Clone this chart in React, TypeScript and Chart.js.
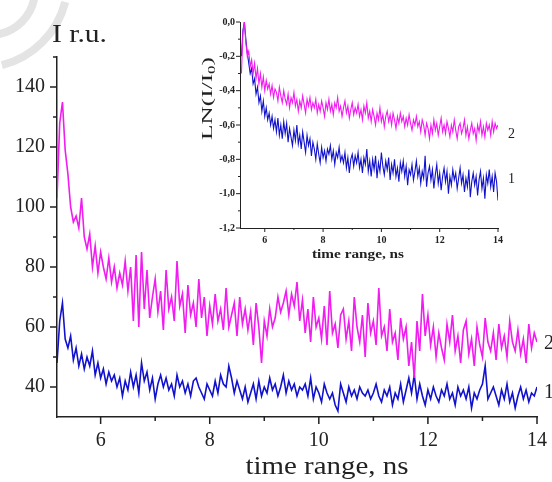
import React, { useEffect, useRef } from "react";
import { Chart, registerables } from "chart.js";

Chart.register(...registerables);

// sampling times, ns
const TIMES = [
  5.2, 5.25, 5.3, 5.35, 5.4, 5.45, 5.5, 5.55, 5.6, 5.65,
  5.7, 5.75, 5.8, 5.85, 5.9, 5.95, 6, 6.05, 6.1, 6.15,
  6.2, 6.25, 6.3, 6.35, 6.4, 6.45, 6.5, 6.55, 6.6, 6.65,
  6.7, 6.75, 6.8, 6.85, 6.9, 6.95, 7, 7.05, 7.1, 7.15,
  7.2, 7.25, 7.3, 7.35, 7.4, 7.45, 7.5, 7.55, 7.6, 7.65,
  7.7, 7.75, 7.8, 7.85, 7.9, 7.95, 8, 8.05, 8.1, 8.15,
  8.2, 8.25, 8.3, 8.35, 8.4, 8.45, 8.5, 8.55, 8.6, 8.65,
  8.7, 8.75, 8.8, 8.85, 8.9, 8.95, 9, 9.05, 9.1, 9.15,
  9.2, 9.25, 9.3, 9.35, 9.4, 9.45, 9.5, 9.55, 9.6, 9.65,
  9.7, 9.75, 9.8, 9.85, 9.9, 9.95, 10, 10.05, 10.1, 10.15,
  10.2, 10.25, 10.3, 10.35, 10.4, 10.45, 10.5, 10.55, 10.6, 10.65,
  10.7, 10.75, 10.8, 10.85, 10.9, 10.95, 11, 11.05, 11.1, 11.15,
  11.2, 11.25, 11.3, 11.35, 11.4, 11.45, 11.5, 11.55, 11.6, 11.65,
  11.7, 11.75, 11.8, 11.85, 11.9, 11.95, 12, 12.05, 12.1, 12.15,
  12.2, 12.25, 12.3, 12.35, 12.4, 12.45, 12.5, 12.55, 12.6, 12.65,
  12.7, 12.75, 12.8, 12.85, 12.9, 12.95, 13, 13.05, 13.1, 13.15,
  13.2, 13.25, 13.3, 13.35, 13.4, 13.45, 13.5, 13.55, 13.6, 13.65,
  13.7, 13.75, 13.8, 13.85, 13.9, 13.95, 14,
];

// main plot, curve 2 (magenta), I r.u.
const MAIN_2 = [
  103, 128, 135, 119, 111, 100, 95, 97, 93, 103,
  90, 86, 91, 80, 87, 78, 85, 80, 76, 83,
  75, 80, 73, 78, 74, 82, 72, 80, 62, 84,
  60, 85, 66, 79, 63, 70, 76, 65, 72, 59,
  79, 66, 70, 62, 82, 67, 71, 58, 74, 64,
  68, 60, 76, 63, 70, 57, 67, 61, 71, 62,
  66, 59, 73, 60, 64, 68, 57, 70, 61, 66,
  59, 65, 54, 68, 60, 48, 62, 57, 66, 60,
  63, 70, 65, 68, 72, 64, 71, 67, 75, 62,
  69, 58, 66, 55, 70, 60, 63, 56, 67, 54,
  72, 58, 61, 53, 64, 66, 56, 62, 52, 70,
  60, 55, 64, 50, 68, 58, 62, 54, 73, 57,
  60, 52, 66, 55, 58, 49, 63, 56, 60, 47,
  55, 43, 62, 52, 71, 57, 64, 54, 60, 50,
  58, 53, 49, 61, 55, 64, 52, 57, 48, 59,
  62, 51, 56, 47, 60, 54, 50, 63, 55, 52,
  58, 49, 61, 53, 57, 50, 62, 55, 52, 59,
  51, 56, 48, 61, 53, 58, 55,
];

// main plot, curve 1 (blue), I r.u.
const MAIN_1 = [
  48, 62, 68, 56, 53, 57, 49, 53, 47, 51,
  46, 50, 47, 52, 44, 48, 43, 46, 41, 45,
  42, 44, 40, 43, 37, 42, 39, 45, 40, 44,
  38, 48, 42, 45, 39, 43, 36, 41, 44, 40,
  43, 39, 41, 37, 44, 40, 42, 38, 41, 37,
  42, 43, 40, 38, 36, 41, 39, 37, 42, 38,
  44, 41, 40, 47, 43, 38, 42, 39, 36, 40,
  35, 38, 41, 36, 42, 37, 40, 38, 43, 39,
  41, 37, 40, 44, 38, 42, 39, 41, 37, 40,
  39, 41, 37, 43, 36, 40, 38, 35, 41, 38,
  36, 38, 34, 32, 41, 38, 35, 40, 37, 39,
  36, 40, 38, 37, 39, 36, 38, 41, 37, 35,
  39, 37, 40, 34, 38, 36, 41, 35, 39, 43,
  38, 44, 36, 41, 37, 34, 39, 36, 40, 37,
  35, 39, 37, 41, 36, 38, 34, 40, 37, 39,
  36, 40, 33, 38, 36, 39, 41, 47, 36, 38,
  40, 37, 34, 39, 36, 41, 35, 38, 33, 37,
  40, 36, 39, 35, 38, 37, 40,
];

// inset, curve 2 (magenta), LN(I/I0)
const INSET_2 = [
  -0.30, -0.06, 0.00, -0.12, -0.20, -0.17, -0.26, -0.22, -0.30, -0.24,
  -0.33, -0.27, -0.36, -0.30, -0.38, -0.32, -0.40, -0.34, -0.39, -0.36,
  -0.42, -0.37, -0.44, -0.39, -0.41, -0.46, -0.38, -0.43, -0.47, -0.40,
  -0.45, -0.48, -0.42, -0.50, -0.44, -0.47, -0.41, -0.49, -0.45, -0.52,
  -0.46, -0.50, -0.43, -0.48, -0.53, -0.45, -0.49, -0.44, -0.51, -0.47,
  -0.50, -0.45, -0.53, -0.48, -0.52, -0.46, -0.50, -0.55, -0.47, -0.51,
  -0.45, -0.52, -0.48, -0.54, -0.47, -0.50, -0.44, -0.52, -0.49, -0.55,
  -0.50, -0.46, -0.53, -0.49, -0.56, -0.51, -0.47, -0.54, -0.50, -0.53,
  -0.48, -0.55, -0.51, -0.57, -0.49, -0.53, -0.47, -0.56, -0.52, -0.58,
  -0.51, -0.55, -0.60, -0.53, -0.57, -0.50, -0.58, -0.54, -0.61, -0.55,
  -0.52, -0.58, -0.54, -0.60, -0.53, -0.57, -0.62, -0.55, -0.59, -0.53,
  -0.58, -0.55, -0.61, -0.56, -0.60, -0.54, -0.59, -0.63, -0.57, -0.60,
  -0.55, -0.61, -0.58, -0.64, -0.57, -0.60, -0.66, -0.59, -0.62, -0.68,
  -0.60, -0.65, -0.57, -0.63, -0.59, -0.66, -0.61, -0.56, -0.64, -0.60,
  -0.65, -0.58, -0.62, -0.67, -0.60, -0.64, -0.57, -0.63, -0.68, -0.61,
  -0.59, -0.65, -0.62, -0.57, -0.66, -0.61, -0.68, -0.63, -0.59, -0.65,
  -0.62, -0.69, -0.60, -0.64, -0.58, -0.66, -0.61, -0.67, -0.59, -0.63,
  -0.60, -0.66, -0.58, -0.64, -0.59, -0.62, -0.60,
];

// inset, curve 1 (blue), LN(I/I0)
const INSET_1 = [
  -0.20, -0.05, 0.00, -0.10, -0.18, -0.24, -0.30, -0.27, -0.36, -0.33,
  -0.42, -0.38, -0.47, -0.43, -0.52, -0.46, -0.55, -0.50, -0.57, -0.53,
  -0.60, -0.55, -0.62, -0.57, -0.64, -0.56, -0.66, -0.60, -0.68, -0.58,
  -0.65, -0.59, -0.70, -0.62, -0.67, -0.72, -0.63, -0.69, -0.60, -0.71,
  -0.66, -0.74, -0.64, -0.70, -0.76, -0.66, -0.72, -0.68, -0.78, -0.70,
  -0.74, -0.80, -0.71, -0.77, -0.82, -0.73, -0.79, -0.75, -0.81, -0.74,
  -0.77, -0.72, -0.80, -0.75, -0.83, -0.76, -0.79, -0.73, -0.81, -0.78,
  -0.82, -0.76, -0.85, -0.79, -0.88, -0.80, -0.77, -0.84, -0.78, -0.82,
  -0.76, -0.85, -0.80, -0.88, -0.79, -0.83, -0.74, -0.87, -0.81, -0.90,
  -0.80, -0.86, -0.78, -0.91, -0.82, -0.87, -0.76, -0.84, -0.89, -0.81,
  -0.86, -0.79, -0.92, -0.83, -0.88, -0.80, -0.90, -0.85, -0.93, -0.82,
  -0.87, -0.81, -0.90, -0.84, -0.95, -0.86, -0.89, -0.83, -0.92, -0.87,
  -0.81, -0.90, -0.85, -0.94, -0.87, -0.91, -0.78, -0.96, -0.88, -0.84,
  -0.92, -0.86, -0.97, -0.89, -0.83, -0.94, -0.88, -0.98, -0.90, -0.85,
  -0.93, -0.87, -1.00, -0.90, -0.95, -0.86, -0.92, -0.88, -0.97, -0.91,
  -0.85, -0.94, -0.89, -0.99, -0.91, -0.96, -0.86, -1.02, -0.93, -0.88,
  -0.95, -0.90, -1.01, -0.92, -0.87, -0.97, -0.91, -1.03, -0.89, -0.94,
  -0.86, -0.96, -0.90, -0.99, -0.88, -0.93, -1.04,
];

const MAIN_X_TICKS = [6, 8, 10, 12, 14];
const MAIN_X_MINOR = [7, 9, 11, 13];
const MAIN_Y_TICKS = [40, 60, 80, 100, 120, 140];
const MAIN_Y_MINOR = [50, 70, 90, 110, 130, 150];
const INSET_X_TICKS = [6, 8, 10, 12, 14];
const INSET_X_MINOR = [7, 9, 11, 13];
const INSET_Y_TICKS = [-1.2, -1.0, -0.8, -0.6, -0.4, -0.2, 0];
const INSET_Y_MINOR = [-1.1, -0.9, -0.7, -0.5, -0.3, -0.1];

const MAGENTA = "#f01cf0";
const BLUE = "#1212cc";
const INK = "#222";
const SERIF = '"Liberation Serif", "DejaVu Serif", serif';

function fitText(ctx: CanvasRenderingContext2D, text: string, x: number, y: number, w: number, font: string, align: CanvasTextAlign) {
  ctx.save();
  ctx.font = font;
  const m = ctx.measureText(text).width;
  ctx.translate(x, y);
  ctx.scale(w / m, 1);
  ctx.textAlign = align;
  ctx.textBaseline = "alphabetic";
  ctx.fillStyle = INK;
  ctx.fillText(text, 0, 0);
  ctx.restore();
}

function drawTickMarks(chart: any, id: string, majors: number[], minors: number[], majLen: number, minLen: number, lw: number) {
  const s = chart.scales[id];
  const ctx = chart.ctx as CanvasRenderingContext2D;
  const a = chart.chartArea;
  ctx.save();
  ctx.strokeStyle = INK;
  ctx.lineWidth = lw;
  ctx.beginPath();
  const one = (v: number, len: number) => {
    const p = s.getPixelForValue(v);
    if (s.isHorizontal()) {
      ctx.moveTo(p, a.bottom);
      ctx.lineTo(p, a.bottom + len);
    } else {
      ctx.moveTo(a.left, p);
      ctx.lineTo(a.left - len, p);
    }
  };
  majors.forEach((v) => one(v, majLen));
  minors.forEach((v) => one(v, minLen));
  ctx.stroke();
  ctx.restore();
}

const mainDecor = {
  id: "mainDecor",
  beforeDraw(chart: any) {
    const ctx = chart.ctx as CanvasRenderingContext2D;
    ctx.save();
    ctx.fillStyle = "#fff";
    ctx.fillRect(0, 0, chart.width, chart.height);
    // faint watermark strokes
    ctx.strokeStyle = "#e4e4e4";
    ctx.lineWidth = 8;
    ctx.beginPath();
    ctx.arc(-20, -20, 88, 0.08 * Math.PI, 0.42 * Math.PI);
    ctx.stroke();
    ctx.beginPath();
    ctx.arc(-10, -10, 45, 0.05 * Math.PI, 0.45 * Math.PI);
    ctx.stroke();
    ctx.restore();
  },
  afterDraw(chart: any) {
    const ctx = chart.ctx as CanvasRenderingContext2D;
    drawTickMarks(chart, "x", MAIN_X_TICKS, MAIN_X_MINOR, 7, 4, 1.5);
    drawTickMarks(chart, "y", MAIN_Y_TICKS, MAIN_Y_MINOR, 7, 4, 1.5);
    fitText(ctx, "I r.u.", 52, 42, 55, `25px ${SERIF}`, "left");
    fitText(ctx, "time range, ns", 327, 474, 163, `25px ${SERIF}`, "center");
    ctx.save();
    ctx.font = `20px ${SERIF}`;
    ctx.fillStyle = INK;
    ctx.textBaseline = "middle";
    ctx.fillText("2", 544, 344);
    ctx.fillText("1", 544, 393);
    ctx.restore();
  },
};

const insetDecor = {
  id: "insetDecor",
  afterDraw(chart: any) {
    const ctx = chart.ctx as CanvasRenderingContext2D;
    drawTickMarks(chart, "x", INSET_X_TICKS, INSET_X_MINOR, 4, 2, 1);
    drawTickMarks(chart, "y", INSET_Y_TICKS, INSET_Y_MINOR, 4, 2, 1);
    const ox = 180;
    fitText(ctx, "time range, ns", 358 - ox, 258, 92, `bold 13px ${SERIF}`, "center");
    // rotated y title LN(I/I0)
    ctx.save();
    ctx.fillStyle = INK;
    ctx.translate(212 - ox, 140);
    ctx.rotate(-Math.PI / 2);
    const f1 = `15px ${SERIF}`;
    const f2 = `10px ${SERIF}`;
    ctx.font = f1;
    const w1 = ctx.measureText("LN(I/I").width;
    const w3 = ctx.measureText(")").width;
    ctx.font = f2;
    const w2 = ctx.measureText("0").width;
    const total = w1 + w2 + w3;
    ctx.scale(83 / total, 1);
    ctx.textBaseline = "alphabetic";
    ctx.font = f1;
    ctx.fillText("LN(I/I", 0, 0);
    ctx.font = f2;
    ctx.fillText("0", w1, 3);
    ctx.font = f1;
    ctx.fillText(")", w1 + w2, 0);
    ctx.restore();
    ctx.save();
    ctx.font = `14px ${SERIF}`;
    ctx.fillStyle = INK;
    ctx.textBaseline = "middle";
    ctx.fillText("2", 508 - ox, 134);
    ctx.fillText("1", 508 - ox, 179);
    ctx.restore();
  },
};

function pts(ys: number[]) {
  return TIMES.map((t, i) => ({ x: t, y: ys[i] }));
}

function fixTicks(list: number[]) {
  return (s: any) => {
    s.ticks = list.map((v) => ({ value: v }));
  };
}

export default function App() {
  const mainRef = useRef<HTMLCanvasElement>(null);
  const insetRef = useRef<HTMLCanvasElement>(null);

  useEffect(() => {
    const common = {
      responsive: false,
      animation: false as const,
      events: [] as any[],
      plugins: { legend: { display: false }, tooltip: { enabled: false } },
    };
    const mainChart = new Chart(mainRef.current!, {
      type: "line",
      data: {
        datasets: [
          { data: pts(MAIN_2), borderColor: MAGENTA, borderWidth: 1.6, pointRadius: 0, tension: 0 },
          { data: pts(MAIN_1), borderColor: BLUE, borderWidth: 1.6, pointRadius: 0, tension: 0 },
        ],
      },
      options: {
        ...common,
        layout: { padding: { left: 0, top: 57, right: 15, bottom: 0 } },
        scales: {
          x: {
            type: "linear",
            min: 5.2,
            max: 14,
            afterBuildTicks: fixTicks(MAIN_X_TICKS),
            afterFit: (s: any) => { s.height = 65; s.paddingLeft = 0; s.paddingRight = 0; },
            grid: { display: true, drawOnChartArea: false, drawTicks: false },
            border: { display: true, color: INK, width: 1.5 },
            ticks: { font: { family: SERIF, size: 20 }, color: INK, padding: 12, maxRotation: 0, autoSkip: false },
          },
          y: {
            type: "linear",
            min: 30,
            max: 150,
            afterBuildTicks: fixTicks(MAIN_Y_TICKS),
            afterFit: (s: any) => { s.width = 57; s.paddingTop = 0; s.paddingBottom = 0; },
            grid: { display: true, drawOnChartArea: false, drawTicks: false },
            border: { display: true, color: INK, width: 1.5 },
            ticks: { font: { family: SERIF, size: 20 }, color: INK, padding: 12, autoSkip: false },
          },
        },
      },
      plugins: [mainDecor],
    } as any);

    const insetChart = new Chart(insetRef.current!, {
      type: "line",
      data: {
        datasets: [
          { data: pts(INSET_2), borderColor: MAGENTA, borderWidth: 1.1, pointRadius: 0, tension: 0 },
          { data: pts(INSET_1), borderColor: BLUE, borderWidth: 1.1, pointRadius: 0, tension: 0 },
        ],
      },
      options: {
        ...common,
        layout: { padding: { left: 0, top: 22, right: 27, bottom: 0 } },
        scales: {
          x: {
            type: "linear",
            min: 5.15,
            max: 14,
            afterBuildTicks: fixTicks(INSET_X_TICKS),
            afterFit: (s: any) => { s.height = 42; s.paddingLeft = 0; s.paddingRight = 0; },
            grid: { display: true, drawOnChartArea: false, drawTicks: false },
            border: { display: true, color: INK, width: 1 },
            ticks: { font: { family: SERIF, size: 10, weight: "bold" }, color: INK, padding: 6, maxRotation: 0, autoSkip: false },
          },
          y: {
            type: "linear",
            min: -1.2,
            max: 0,
            afterBuildTicks: fixTicks(INSET_Y_TICKS),
            afterFit: (s: any) => { s.width = 60; s.paddingTop = 0; s.paddingBottom = 0; },
            grid: { display: true, drawOnChartArea: false, drawTicks: false },
            border: { display: true, color: INK, width: 1 },
            ticks: {
              font: { family: SERIF, size: 10, weight: "bold" },
              color: INK,
              padding: 5,
              autoSkip: false,
              callback: (v: any) => (Math.abs(v) < 1e-9 ? "0,0" : Number(v).toFixed(1).replace(".", ",")),
            },
          },
        },
      },
      plugins: [insetDecor],
    } as any);

    return () => {
      mainChart.destroy();
      insetChart.destroy();
    };
  }, []);

  return (
    <div style={{ position: "fixed", left: 0, top: 0, width: 552, height: 482, background: "#fff" }}>
      <canvas ref={mainRef} width={552} height={482} style={{ position: "absolute", left: 0, top: 0, width: 552, height: 482 }} />
      <canvas ref={insetRef} width={345} height={270} style={{ position: "absolute", left: 180, top: 0, width: 345, height: 270 }} />
    </div>
  );
}
